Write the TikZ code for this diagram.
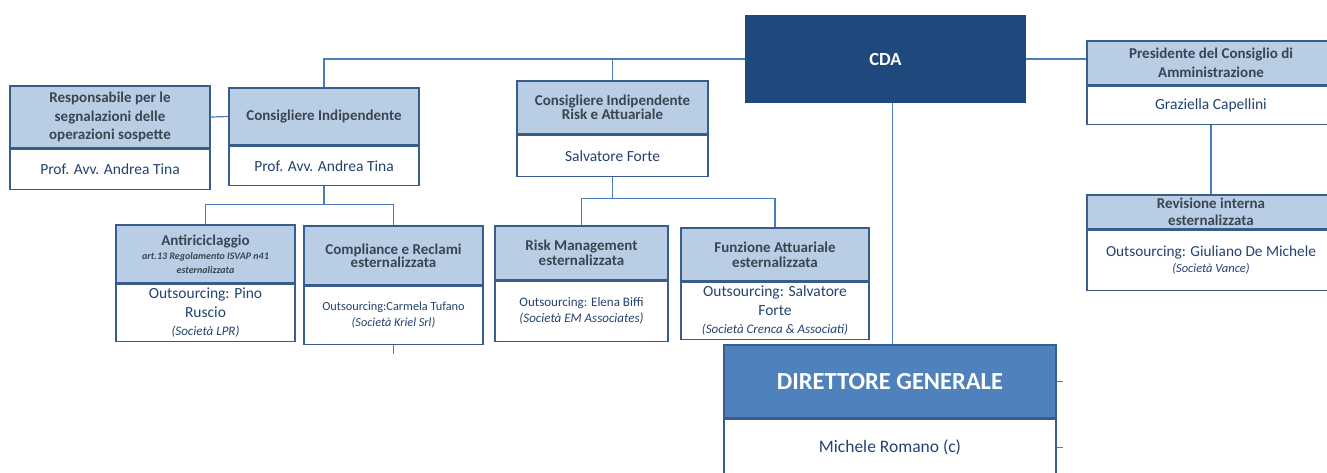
\documentclass[tikz,border=0pt]{standalone}
\usepackage{fontspec}
\setmainfont{Carlito}
\usetikzlibrary{positioning}
\definecolor{navy}{HTML}{1F497D}
\definecolor{mid}{HTML}{4F81BD}
\definecolor{pale}{HTML}{B9CDE5}
\definecolor{edge}{HTML}{385D8A}
\definecolor{wirec}{HTML}{4A7EBB}
\definecolor{ink}{HTML}{3B4552}
\definecolor{navyink}{HTML}{244270}
\tikzset{
  hdr/.style={draw=edge,fill=pale,line width=1.2pt,inner xsep=2pt,inner ysep=1pt,align=center,text=ink,font=\fontsize{15}{18.5}\selectfont\bfseries},
  namebox/.style={draw=edge,fill=white,line width=1.2pt,inner xsep=2pt,inner ysep=1pt,align=center,text=navyink,font=\fontsize{15.5}{18.5}\selectfont},
  chief/.style={draw=#1,fill=#1,line width=1.2pt,align=center,text=white,font=\bfseries},
  link/.style={draw=wirec,line width=1.2pt}
}

\begin{document}
\begin{tikzpicture}[x=1pt,y=-1pt]
    \clip (0,0) rectangle (1327,472);
    \fill[white] (0,0) rectangle (1327,472);

    \node[chief=navy,minimum width=279pt,minimum height=86pt,font=\fontsize{18.5}{22}\selectfont\bfseries] (cda) at (885.5,59) {CDA};

    \node[hdr,minimum width=200pt,minimum height=62pt] (resp) at (110,117) {Responsabile per le\\segnalazioni delle\\operazioni sospette};
    \node[namebox,minimum width=200pt,minimum height=40pt,below=0pt of resp] (respname) {Prof. Avv. Andrea Tina};
    \node[hdr,minimum width=190pt,minimum height=57pt] (cind) at (324,116.5) {Consigliere Indipendente};
    \node[namebox,minimum width=190pt,minimum height=39pt,below=0pt of cind] (cindname) {Prof. Avv. Andrea Tina};
    \node[hdr,minimum width=191pt,minimum height=53pt,font=\fontsize{15}{12.5}\selectfont\bfseries] (crisk) at (612.5,107.5) {Consigliere Indipendente\\Risk e Attuariale};
    \node[namebox,minimum width=191pt,minimum height=41pt,below=0pt of crisk] (criskname) {Salvatore Forte};

    \node[hdr,minimum width=179pt,minimum height=58pt,font=\fontsize{15}{14}\selectfont\bfseries] (anti) at (205.5,254) {Antiriciclaggio\\{\fontsize{10}{12}\selectfont\itshape art.13 Regolamento ISVAP n41}\\{\fontsize{10}{12}\selectfont\itshape esternalizzata}};
    \node[namebox,minimum width=179pt,minimum height=57pt,below=0pt of anti] (antiname) {Outsourcing: Pino\\Ruscio\\{\fontsize{13}{15}\selectfont\itshape (Società LPR)}};
    \node[hdr,minimum width=179pt,minimum height=59pt,font=\fontsize{15}{13}\selectfont\bfseries] (comp) at (393.5,255.5) {Compliance e Reclami\\esternalizzata};
    \node[namebox,minimum width=179pt,minimum height=58pt,below=0pt of comp,font=\fontsize{12.3}{16}\selectfont] (compname) {Outsourcing:Carmela Tufano\\{\itshape (Società Kriel Srl)}};
    \node[hdr,minimum width=173pt,minimum height=54pt,font=\fontsize{15}{15}\selectfont\bfseries] (riskm) at (581.5,253) {Risk Management\\esternalizzata};
    \node[namebox,minimum width=173pt,minimum height=60pt,below=0pt of riskm,font=\fontsize{13}{16}\selectfont] (riskmname) {Outsourcing: Elena Biffi\\{\itshape (Società EM Associates)}};
    \node[hdr,minimum width=188pt,minimum height=53pt,font=\fontsize{15}{15}\selectfont\bfseries] (funz) at (775,254.5) {Funzione Attuariale\\esternalizzata};
    \node[namebox,minimum width=188pt,minimum height=57pt,below=0pt of funz] (funzname) {Outsourcing: Salvatore\\Forte\\{\fontsize{13}{15}\selectfont\itshape (Società Crenca \& Associati)}};

    \node[hdr,minimum width=248pt,minimum height=44pt] (pres) at (1211,63) {Presidente del Consiglio di\\Amministrazione};
    \node[namebox,minimum width=248pt,minimum height=38pt,below=0pt of pres] (presname) {Graziella Capellini};
    \node[hdr,minimum width=248pt,minimum height=34pt,font=\fontsize{15}{17}\selectfont\bfseries] (rev) at (1211,212) {Revisione interna\\esternalizzata};
    \node[namebox,minimum width=248pt,minimum height=60pt,below=0pt of rev,font=\fontsize{15.3}{16}\selectfont] (revname) {Outsourcing: Giuliano De Michele\\{\fontsize{12.5}{14}\selectfont\itshape (Società Vance)}};

    \node[chief=mid,draw=edge,minimum width=332pt,minimum height=73pt,font=\fontsize{24.5}{28}\selectfont\bfseries] (dg) at (890,381.5) {DIRETTORE GENERALE};
    \node[namebox,minimum width=332pt,minimum height=56pt,below=0pt of dg,font=\fontsize{17.5}{20}\selectfont] (dgname) {Michele Romano (c)};

    % board links
    \draw[link] (cda.west) -| (cind.north);
    \draw[link] (crisk.north) -- (crisk.north |- cda.west);
    \draw[link] (cda.east) -- (cda.east -| pres.west);
    \draw[link] ([xshift=7pt]cda.south) -- ([xshift=7pt]cda.south |- dg.north);
    \draw[link] (presname.south) -- (rev.north);
    \draw[link] (resp.east) -- (cind.west);

    % outsourced functions
    \coordinate[below=19pt of cindname] (cjoin);
    \draw[link] (cindname.south) -- (cjoin);
    \draw[link] (anti.north) |- (cjoin) -| (comp.north);
    \coordinate[below=22pt of criskname] (rjoin);
    \draw[link] (criskname.south) -- (rjoin);
    \draw[link] (riskm.north) |- (rjoin) -| (funz.north);

    % loose ends
    \coordinate[below=9pt of compname] (compstub);
    \draw[link] (compname.south) -- (compstub);
    \coordinate[right=6pt of dg] (dgstub);
    \draw[link] (dg.east) -- (dgstub);
    \coordinate[right=6pt of dgname] (dgnamestub);
    \draw[link] (dgname.east) -- (dgnamestub);
\end{tikzpicture}
\end{document}
